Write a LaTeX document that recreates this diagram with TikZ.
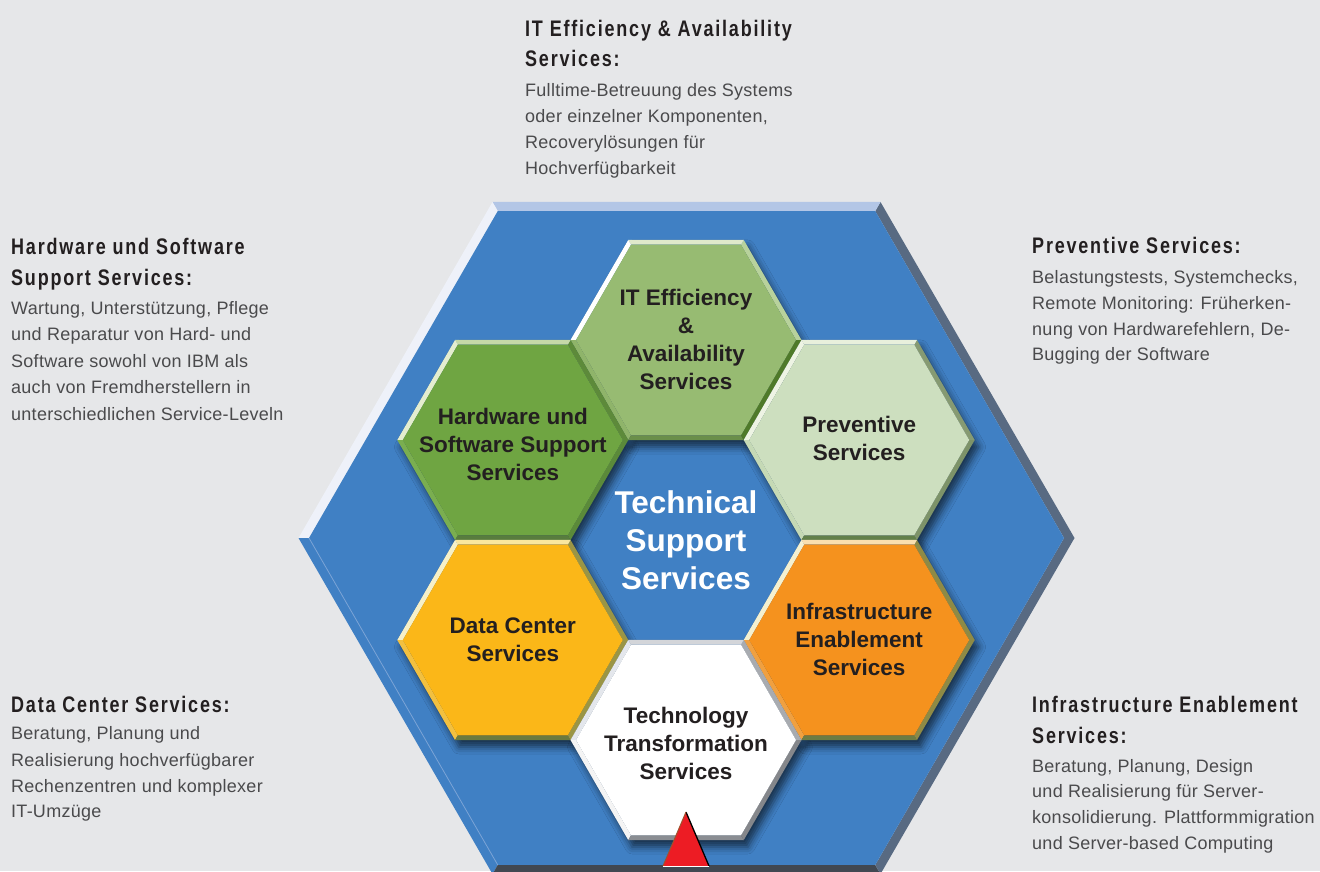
\documentclass[tikz,border=0pt]{standalone}
\usepackage{fontspec}
\setmainfont{Liberation Sans}
\newfontfamily\titlefont{Liberation Sans}[FakeStretch=0.8,LetterSpace=8]
\newfontfamily\bodyfont{Liberation Sans}[LetterSpace=1.5]
\usetikzlibrary{shadows.blur}

\definecolor{bg}{HTML}{E6E7E9}
\definecolor{titlec}{HTML}{231F20}
\definecolor{bodyc}{HTML}{4A4A4C}
% big hexagon
\definecolor{bigf}{HTML}{4080C4}
\definecolor{bigt}{HTML}{B3C6E6}
\definecolor{bigul}{HTML}{EEF1F9}
\definecolor{bigur}{HTML}{586A82}
\definecolor{biglr}{HTML}{586A82}
\definecolor{bigb}{HTML}{414852}
\definecolor{bigll}{HTML}{4080C4}
\definecolor{bigline}{HTML}{7AA3D6}
% IT efficiency
\definecolor{itf}{HTML}{97BB72}
\definecolor{itt}{HTML}{DFE9CB}
\definecolor{itul}{HTML}{FFFFFF}
\definecolor{itur}{HTML}{B8D29C}
\definecolor{itlr}{HTML}{4F7A2A}
\definecolor{itb}{HTML}{6A8F4A}
\definecolor{itll}{HTML}{8FB46A}
% Hardware
\definecolor{hwf}{HTML}{6FA542}
\definecolor{hwt}{HTML}{C5D9A8}
\definecolor{hwul}{HTML}{E4EDCF}
\definecolor{hwur}{HTML}{5D8A3A}
\definecolor{hwlr}{HTML}{5B8A3A}
\definecolor{hwb}{HTML}{587C3E}
\definecolor{hwll}{HTML}{7AAE50}
% Preventive
\definecolor{pvf}{HTML}{CDDFBF}
\definecolor{pvt}{HTML}{E8F0DC}
\definecolor{pvul}{HTML}{EEF4E4}
\definecolor{pvur}{HTML}{869A72}
\definecolor{pvlr}{HTML}{7D9369}
\definecolor{pvb}{HTML}{62804A}
\definecolor{pvll}{HTML}{C5D9B5}
% Data center
\definecolor{dcf}{HTML}{FBB718}
\definecolor{dct}{HTML}{F9E7A0}
\definecolor{dcul}{HTML}{F6F0C8}
\definecolor{dcur}{HTML}{9A9545}
\definecolor{dclr}{HTML}{9A9545}
\definecolor{dcb}{HTML}{6B7A3E}
\definecolor{dcll}{HTML}{F2C040}
% Infrastructure
\definecolor{inf}{HTML}{F5921E}
\definecolor{int}{HTML}{F9DFB0}
\definecolor{inul}{HTML}{F4F0D0}
\definecolor{inur}{HTML}{8E8A45}
\definecolor{inlr}{HTML}{8E8A45}
\definecolor{inb}{HTML}{6E7C43}
\definecolor{inll}{HTML}{F0A040}
% Technology
\definecolor{tef}{HTML}{FFFFFF}
\definecolor{tet}{HTML}{D3D5D9}
\definecolor{teul}{HTML}{E4E7EC}
\definecolor{teur}{HTML}{A8ABB0}
\definecolor{telr}{HTML}{85878B}
\definecolor{teb}{HTML}{8A8D92}
\definecolor{tell}{HTML}{F4F4F4}
% triangle
\definecolor{tred}{HTML}{ED1C24}
\definecolor{tbrown}{HTML}{A0522D}

% bevelled flat-top hexagon: cx, cy, outer R, inner R, colour prefix
\newcommand\bhex[5]{%
  \pgfmathsetmacro\hA{0.8660254*#3}%
  \pgfmathsetmacro\hB{0.8660254*#4}%
  \coordinate (o1) at ({#1+#3},{#2});
  \coordinate (o2) at ({#1+#3/2},{#2-\hA});
  \coordinate (o3) at ({#1-#3/2},{#2-\hA});
  \coordinate (o4) at ({#1-#3},{#2});
  \coordinate (o5) at ({#1-#3/2},{#2+\hA});
  \coordinate (o6) at ({#1+#3/2},{#2+\hA});
  \coordinate (i1) at ({#1+#4},{#2});
  \coordinate (i2) at ({#1+#4/2},{#2-\hB});
  \coordinate (i3) at ({#1-#4/2},{#2-\hB});
  \coordinate (i4) at ({#1-#4},{#2});
  \coordinate (i5) at ({#1-#4/2},{#2+\hB});
  \coordinate (i6) at ({#1+#4/2},{#2+\hB});
  \fill[#5ur] (o1)--(o2)--(i2)--(i1)--cycle;
  \fill[#5t]  (o2)--(o3)--(i3)--(i2)--cycle;
  \fill[#5ul] (o3)--(o4)--(i4)--(i3)--cycle;
  \fill[#5ll] (o4)--(o5)--(i5)--(i4)--cycle;
  \fill[#5b]  (o5)--(o6)--(i6)--(i5)--cycle;
  \fill[#5lr] (o6)--(o1)--(i1)--(i6)--cycle;
  \fill[#5f]  (i1)--(i2)--(i3)--(i4)--(i5)--(i6)--cycle;
}
% soft shadow of a hexagon: cx, cy, R
\newcommand\hexshadow[3]{%
  \path[blur shadow={shadow xshift=4pt,shadow yshift=-7pt,shadow blur radius=7pt,shadow opacity=60}]
    ({#1+#3},{#2}) -- ({#1+#3/2},{#2-0.8660254*#3}) -- ({#1-#3/2},{#2-0.8660254*#3})
    -- ({#1-#3},{#2}) -- ({#1-#3/2},{#2+0.8660254*#3}) -- ({#1+#3/2},{#2+0.8660254*#3}) -- cycle;
}

\begin{document}
\begin{tikzpicture}[x=1pt,y=-1pt,
  ttl/.style={font=\titlefont\bfseries\fontsize{22.5}{26}\selectfont, text=titlec, anchor=base west, inner sep=0pt},
  bdy/.style={font=\bodyfont\fontsize{18}{26}\selectfont, text=bodyc, anchor=base west, inner sep=0pt},
  hexlbl/.style={font=\bfseries\fontsize{22.5}{28}\selectfont, text=titlec, align=center, inner sep=0pt},
  centerlbl/.style={font=\bfseries\fontsize{31.5}{38}\selectfont, text=white, align=center, inner sep=0pt}]
\fill[bg] (0,0) rectangle (1320,871);
\useasboundingbox (0,0) rectangle (1320,871);

% big hexagon
\bhex{686.5}{538}{388}{377.5}{big}
\draw[bigline, line width=0.8pt] (i4) -- (i5);

% shadows of the small hexagons
\hexshadow{686}{340}{115.5}
\hexshadow{859.2}{440}{115.5}
\hexshadow{859.2}{640}{115.5}
\hexshadow{686}{740}{115.5}
\hexshadow{512.8}{640}{115.5}
\hexshadow{512.8}{440}{115.5}

% small hexagons
\bhex{686}{340}{115.5}{110}{it}
\bhex{512.8}{440}{115.5}{110}{hw}
\bhex{859.2}{440}{115.5}{110}{pv}
\bhex{512.8}{640}{115.5}{110}{dc}
\bhex{859.2}{640}{115.5}{110}{in}
\bhex{686}{740}{115.5}{110}{te}

% hexagon labels
\node[centerlbl] (tss) at (686,540) {Technical\\Support\\Services};
\node[hexlbl] (itl) at (686,339) {IT Efficiency\\\&\\Availability\\Services};
\node[hexlbl] (hwl) at (512.8,444) {Hardware und\\Software Support\\Services};
\node[hexlbl] (pvl) at (859.2,438) {Preventive\\Services};
\node[hexlbl] (dcl) at (512.8,640) {Data Center\\Services};
\node[hexlbl] (inl) at (859.2,639) {Infrastructure\\Enablement\\Services};
\node[hexlbl] (tel) at (686,743) {Technology\\Transformation\\Services};

% red triangle
\coordinate (ta) at (686,812);
\coordinate (tl) at (663,866);
\coordinate (tr) at (709,866);
\fill[tred] (ta) -- (tr) -- (tl) -- cycle;
\draw[black, line width=1.3pt] (ta) -- (tr);
\draw[tbrown, line width=1pt] (ta) -- (tl);
\draw[white, line width=1pt] (tl) -- (tr);

% top text
\node[ttl] (t1) at (525,36) {IT Efficiency \& Availability};
\node[ttl] (t2) at (525,66) {Services:};
\node[bdy] (t3) at (525,96) {Fulltime-Betreuung des Systems};
\node[bdy] (t4) at (525,122) {oder einzelner Komponenten,};
\node[bdy] (t5) at (525,148) {Recoverylösungen für};
\node[bdy] (t6) at (525,174) {Hochverfügbarkeit};

% left upper text
\node[ttl] (h1) at (11,254) {Hardware und Software};
\node[ttl] (h2) at (11,285) {Support Services:};
\node[bdy] (h3) at (11,314) {Wartung, Unterstützung, Pflege};
\node[bdy] (h4) at (11,340.5) {und Reparatur von Hard- und};
\node[bdy] (h5) at (11,367) {Software sowohl von IBM als};
\node[bdy] (h6) at (11,393.5) {auch von Fremdherstellern in};
\node[bdy] (h7) at (11,420) {unterschiedlichen Service-Leveln};

% right upper text
\node[ttl] (p1) at (1032,253) {Preventive Services:};
\node[bdy] (p2) at (1032,283) {Belastungstests, Systemchecks,};
\node[bdy] (p3) at (1032,309) {Remote Monitoring: Früherken-};
\node[bdy] (p4) at (1032,335) {nung von Hardwarefehlern, De-};
\node[bdy] (p5) at (1032,360) {Bugging der Software};

% left lower text
\node[ttl] (d1) at (11,712) {Data Center Services:};
\node[bdy] (d2) at (11,739) {Beratung, Planung und};
\node[bdy] (d3) at (11,766) {Realisierung hochverfügbarer};
\node[bdy] (d4) at (11,792) {Rechenzentren und komplexer};
\node[bdy] (d5) at (11,817) {IT-Umzüge};

% right lower text
\node[ttl] (n1) at (1032,712) {Infrastructure Enablement};
\node[ttl] (n2) at (1032,743) {Services:};
\node[bdy] (n3) at (1032,772) {Beratung, Planung, Design};
\node[bdy] (n4) at (1032,797) {und Realisierung für Server-};
\node[bdy] (n5) at (1032,823) {konsolidierung. Plattformmigration};
\node[bdy] (n6) at (1032,849) {und Server-based Computing};
\end{tikzpicture}
\end{document}
